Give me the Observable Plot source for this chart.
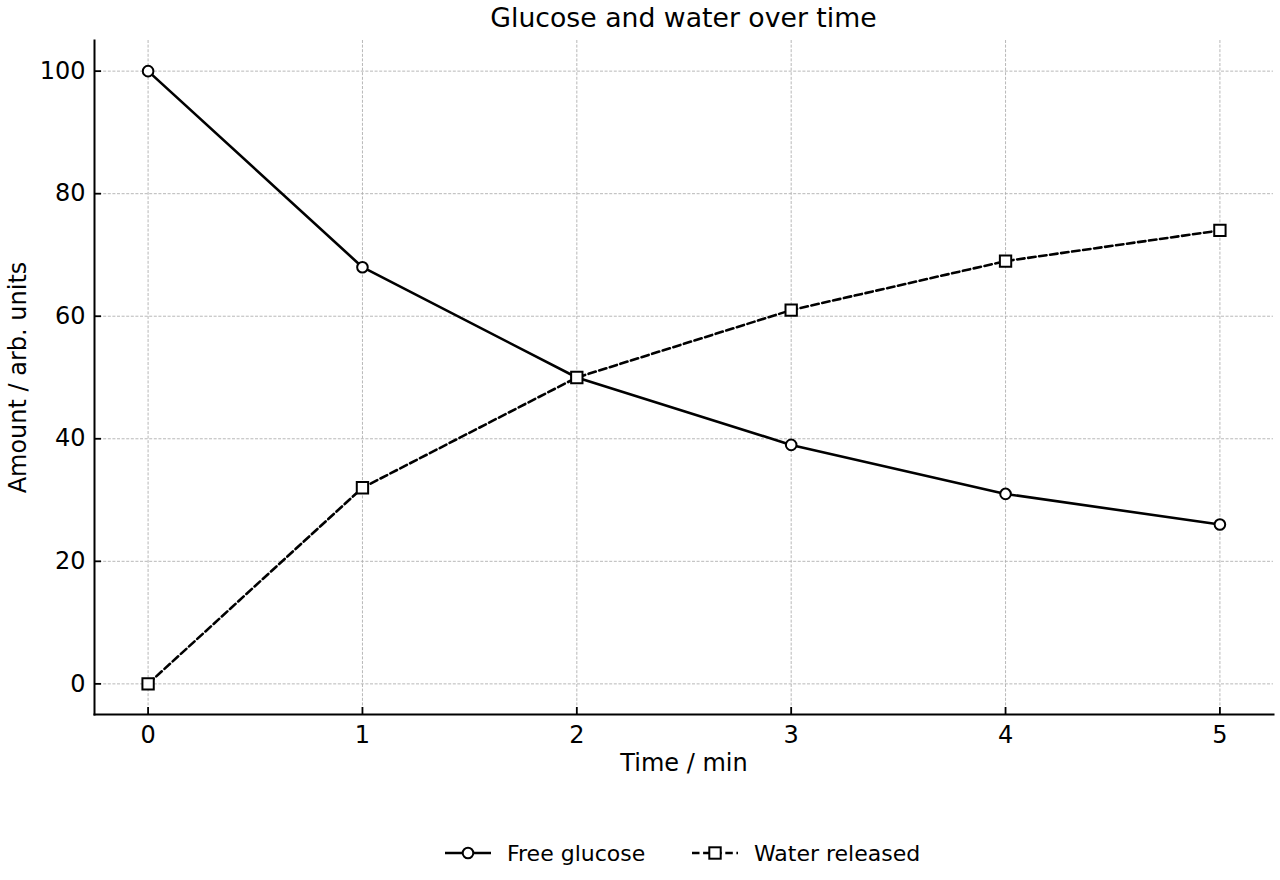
<!DOCTYPE html>
<html><head><meta charset="utf-8">
<script src="https://cdn.jsdelivr.net/npm/d3@7"></script>
<script src="https://cdn.jsdelivr.net/npm/@observablehq/plot@0.6"></script>
<style>
body{margin:0;background:#fff;font-family:"DejaVu Sans",sans-serif;}
#wrap{position:relative;width:1280px;height:880px;overflow:hidden;}
#title{position:absolute;left:94px;width:1179px;top:5px;text-align:center;font-size:26.7px;line-height:26px;color:#000;}
#chart{position:absolute;left:0;top:36px;}
#legend{position:absolute;left:0;top:833px;}
</style>
</head><body>
<div id="wrap">
  <div id="title">Glucose and water over time</div>
  <div id="chart"></div>
  <svg id="legend" width="1280" height="40" xmlns="http://www.w3.org/2000/svg"></svg>
</div>
<script>
const times = [0, 1, 2, 3, 4, 5];
const glucose = [100, 68, 50, 39, 31, 26];
const water = [0, 32, 50, 61, 69, 74];
const seriesNames = ["Free glucose", "Water released"];
const xTicks = [0, 1, 2, 3, 4, 5];
const yTicks = [0, 20, 40, 60, 80, 100];
const xLabel = "Time / min";
const yLabel = "Amount / arb. units";

const glucoseData = times.map((t, i) => ({t, v: glucose[i]}));
const waterData = times.map((t, i) => ({t, v: water[i]}));

const gridStyle = {stroke: "#b0b0b0", strokeOpacity: 1, strokeWidth: 0.9, strokeDasharray: "3,1.6"};
const dash = "7.5,3.6";

const chart = Plot.plot({
  width: 1280, height: 764,
  marginTop: 4, marginBottom: 86, marginLeft: 94, marginRight: 7,
  style: {fontFamily: "DejaVu Sans", fontSize: "24px", color: "black", background: "white", overflow: "visible"},
  x: {domain: [-0.25, 5.25]},
  y: {domain: [-5, 105]},
  marks: [
    Plot.gridX(xTicks, gridStyle),
    Plot.gridY(yTicks, gridStyle),
    Plot.axisX(xTicks, {tickSize: -7, tickPadding: 18, label: null, strokeWidth: 1.8, fontSize: 24, tickFormat: d => String(d)}),
    Plot.axisY(yTicks, {tickSize: -7, tickPadding: 16, label: null, strokeWidth: 1.8, fontSize: 24, tickFormat: d => String(d)}),
    Plot.frame({anchor: "left", strokeWidth: 2}),
    Plot.frame({anchor: "bottom", strokeWidth: 2}),
    Plot.line(glucoseData, {x: "t", y: "v", stroke: "black", strokeWidth: 2.6}),
    Plot.line(waterData, {x: "t", y: "v", stroke: "black", strokeWidth: 2.6, strokeDasharray: dash}),
    Plot.dot(glucoseData, {x: "t", y: "v", r: 5.3, fill: "white", stroke: "black", strokeWidth: 2}),
    Plot.dot(waterData, {x: "t", y: "v", symbol: "square", r: 6.4, fill: "white", stroke: "black", strokeWidth: 2}),
    Plot.text([xLabel], {text: d => d, frameAnchor: "bottom", dy: 39, lineAnchor: "top", fontSize: 24, fill: "black"}),
    Plot.text([yLabel], {text: d => d, frameAnchor: "left", dx: -76, rotate: -90, textAnchor: "middle", fontSize: 24, fill: "black"})
  ]
});
document.getElementById("chart").appendChild(chart);

// legend
const lg = d3.select("#legend");
const cy = 20;
const items = [
  {name: seriesNames[0], x0: 445, dash: null, sym: "circle"},
  {name: seriesNames[1], x0: 692, dash: dash, sym: "square"}
];
items.forEach(it => {
  lg.append("line").attr("x1", it.x0).attr("x2", it.x0 + 46).attr("y1", cy).attr("y2", cy)
    .attr("stroke", "black").attr("stroke-width", 2.6).attr("stroke-dasharray", it.dash);
  const cx = it.x0 + 23;
  if (it.sym === "circle") {
    lg.append("circle").attr("cx", cx).attr("cy", cy).attr("r", 5.3).attr("fill", "white").attr("stroke", "black").attr("stroke-width", 2);
  } else {
    lg.append("rect").attr("x", cx - 5.7).attr("y", cy - 5.7).attr("width", 11.4).attr("height", 11.4).attr("fill", "white").attr("stroke", "black").attr("stroke-width", 2);
  }
  lg.append("text").attr("x", it.x0 + 62).attr("y", cy + 8).attr("font-family", "DejaVu Sans").attr("font-size", 22).attr("fill", "black").text(it.name);
});
</script>
</body></html>
